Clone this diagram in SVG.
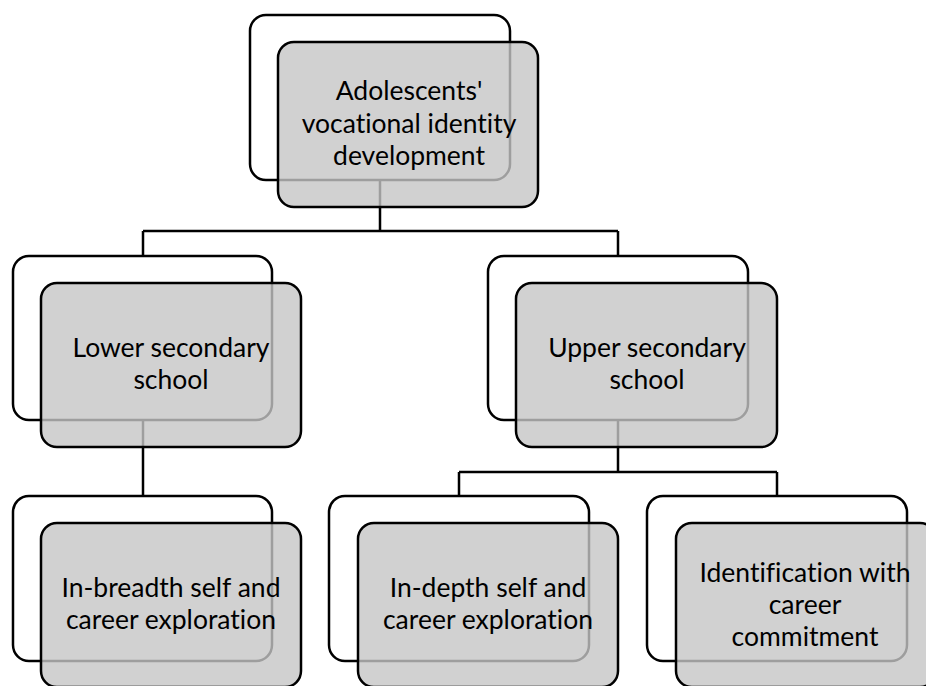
<svg xmlns="http://www.w3.org/2000/svg" width="926" height="686" viewBox="0 0 926 686">
<style>
.back{fill:#ffffff;stroke:#000;stroke-width:2.5}
.front{fill:rgb(197,197,197);fill-opacity:0.8;stroke:#000;stroke-width:2.5}
.conn{fill:none;stroke:#000;stroke-width:2.5}
text{font-family:Lato,"Liberation Sans",sans-serif;font-size:26.5px;fill:#000;text-anchor:middle;font-variant-ligatures:none}
</style>
<rect width="926" height="686" fill="#fff"/>
<g id="back-rects">
<rect class="back" x="250" y="15" width="260" height="165" rx="16"/>
<rect class="back" x="13" y="256" width="259" height="164" rx="16"/>
<rect class="back" x="488" y="256" width="260" height="164" rx="16"/>
<rect class="back" x="13" y="496" width="259" height="165" rx="16"/>
<rect class="back" x="329" y="496" width="260" height="165" rx="16"/>
<rect class="back" x="647" y="496" width="260" height="165" rx="16"/>
</g>
<g id="connectors">
<path class="conn" d="M380,180 V231 M143,231 H618 M143,231 V256 M618,231 V256"/>
<path class="conn" d="M143,420 V496"/>
<path class="conn" d="M618,420 V472 M459,472 H777 M459,472 V496 M777,472 V496"/>
</g>
<g id="node-root">
<rect class="front" x="278" y="42" width="260" height="165" rx="16"/>
<text x="409" y="100">Adolescents'</text>
<text x="409" y="133">vocational identity</text>
<text x="409" y="165">development</text>
</g>
<g id="node-lower">
<rect class="front" x="41" y="283" width="260" height="164" rx="16"/>
<text x="171" y="357">Lower secondary</text>
<text x="171" y="389">school</text>
</g>
<g id="node-upper">
<rect class="front" x="516" y="283" width="261" height="164" rx="16"/>
<text x="647" y="357">Upper secondary</text>
<text x="647" y="389">school</text>
</g>
<g id="node-inbreadth">
<rect class="front" x="41" y="523" width="260" height="164" rx="16"/>
<text x="171" y="597">In-breadth self and</text>
<text x="171" y="629">career exploration</text>
</g>
<g id="node-indepth">
<rect class="front" x="358" y="523" width="260" height="164" rx="16"/>
<text x="488" y="597">In-depth self and</text>
<text x="488" y="629">career exploration</text>
</g>
<g id="node-identification">
<rect class="front" x="676" y="523" width="260" height="164" rx="16"/>
<text x="805" y="582">Identification with</text>
<text x="805" y="614">career</text>
<text x="805" y="646">commitment</text>
</g>
</svg>
